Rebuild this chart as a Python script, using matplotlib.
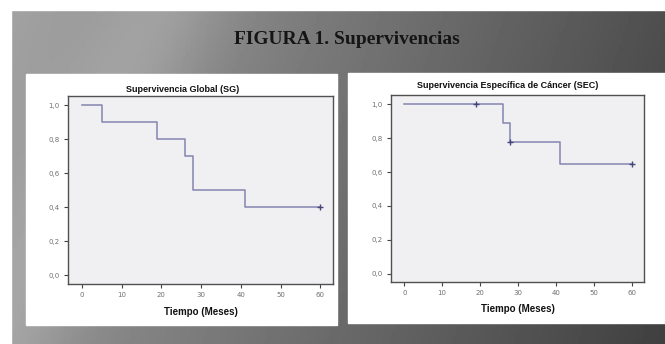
import numpy as np
import matplotlib.pyplot as plt
from matplotlib.patches import Rectangle
from matplotlib.ticker import FuncFormatter

# Kaplan-Meier steps
sg_time = [0, 5, 19, 26, 28, 41, 60]
sg_surv = [1.0, 0.9, 0.8, 0.7, 0.5, 0.4, 0.4]
sg_cens_time = [60]
sg_cens_surv = [0.4]

sec_time = [0, 26, 28, 41, 60]
sec_surv = [1.0, 0.889, 0.778, 0.648, 0.648]
sec_cens_time = [19, 28, 60]
sec_cens_surv = [1.0, 0.778, 0.648]

xticks = [0, 10, 20, 30, 40, 50, 60]
yticks = [0.0, 0.2, 0.4, 0.6, 0.8, 1.0]

W, H = 665, 344
fig = plt.figure(figsize=(W / 100, H / 100), dpi=100)

# slide background: grey gradient
bg = fig.add_axes([0, 0, 1, 1], zorder=-10)
xx, yy = np.meshgrid(np.linspace(0, 1, 200), np.linspace(0, 1, 100))
shade = 0.64 - 0.33 * xx - 0.06 * yy + 0.07 * np.exp(-((xx - 0.25 * (1 - yy)) ** 2) / 0.01)
bg.imshow(shade, cmap='gray', vmin=0, vmax=1, aspect='auto',
          extent=[0, 1, 0, 1], origin='upper')
bg.set_xlim(0, 1)
bg.set_ylim(0, 1)
bg.axis('off')


def px_rect(x0, y0, x1, y1, **kw):
    fig.patches.append(Rectangle((x0 / W, 1 - y1 / H), (x1 - x0) / W, (y1 - y0) / H,
                                 transform=fig.transFigure, zorder=-5, **kw))


# white page border
px_rect(0, 0, W, 10, color='white')
px_rect(0, 0, 11, H, color='white')
# white chart panels
px_rect(26, 74, 337, 325, color='white')
px_rect(348, 73, W, 323, color='white')

fig.text(347 / W, 1 - 40 / H, 'FIGURA 1. Supervivencias', ha='center', va='center',
         fontsize=14, fontweight='bold', family='Liberation Serif', color='#151515')

line_c = '#8484b0'
comma = FuncFormatter(lambda v, p: f'{v:.1f}'.replace('.', ','))


def km_panel(rect, t, s, ct, cs, title, title_x, title_y, xlab_y):
    ax = fig.add_axes(rect)
    ax.set_facecolor('#f0f0f2')
    ax.step(t, s, where='post', color=line_c, lw=1.1)
    ax.plot(ct, cs, '+', color='#45457a', ms=4, mew=1)
    ax.set_xlim(-3.5, 63.2)
    ax.set_ylim(-0.05, 1.055)
    ax.set_xticks(xticks)
    ax.set_yticks(yticks)
    ax.yaxis.set_major_formatter(comma)
    ax.tick_params(labelsize=5, labelcolor='#707070', color='#444444',
                   length=3, width=0.8, pad=3)
    for sp in ax.spines.values():
        sp.set_color('#505050')
        sp.set_linewidth(1)
    fig.text(title_x / W, 1 - title_y / H, title, ha='center', va='center',
             fontsize=6.5, fontweight='bold', family='Liberation Sans', color='#111111')
    fig.text((rect[0] + rect[2] / 2), 1 - xlab_y / H, 'Tiempo (Meses)', ha='center',
             va='center', fontsize=7, fontweight='bold', family='Liberation Sans',
             color='#111111')
    return ax


km_panel([68 / W, 1 - 284 / H, 265 / W, 188 / H], sg_time, sg_surv,
         sg_cens_time, sg_cens_surv, 'Supervivencia Global (SG)', 183, 89, 312)
km_panel([391 / W, 1 - 282 / H, 253 / W, 187 / H], sec_time, sec_surv,
         sec_cens_time, sec_cens_surv, 'Supervivencia Específica de Cáncer (SEC)',
         508, 86, 309)

fig.savefig('out.png', dpi=100)
